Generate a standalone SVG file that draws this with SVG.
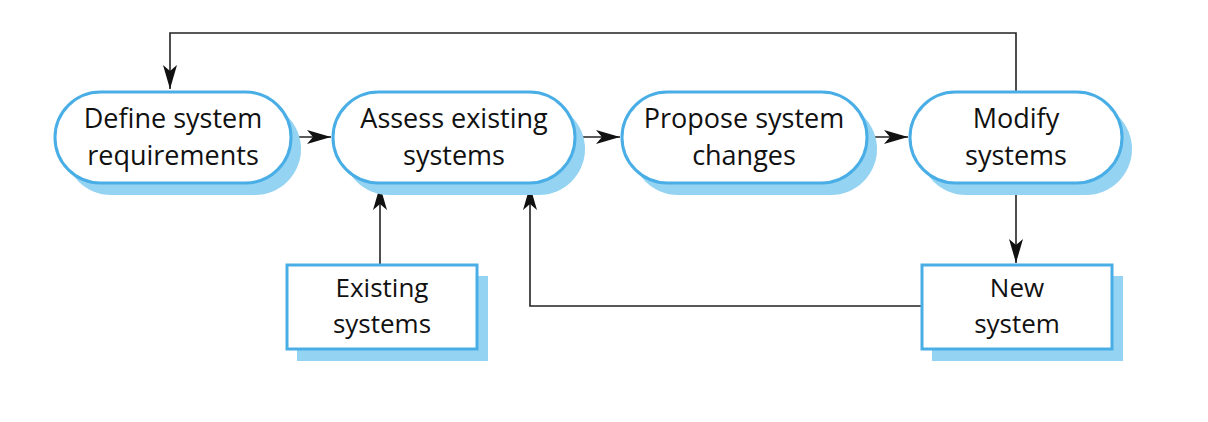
<svg xmlns="http://www.w3.org/2000/svg" width="1208" height="422" viewBox="0 0 1208 422">
<defs>
<style>
.sh{fill:#94d3f2;stroke:none}
.nd{fill:#ffffff;stroke:#4aaee6;stroke-width:3}
.t{font-family:"Open Sans","Noto Sans",sans-serif;font-size:27px;fill:#111;text-anchor:middle}
.s{font-size:26px}
.c{fill:none;stroke:#222;stroke-width:1.6}
</style>
<marker id="ah" viewBox="0 0 24 14" refX="24" refY="7" markerWidth="24" markerHeight="14" markerUnits="userSpaceOnUse" orient="auto">
<path d="M0,0 L24,7 L0,14 L6,7 Z" fill="#111"/>
</marker>
</defs>
<rect width="1208" height="422" fill="#fff"/>
<g id="connectors">
<path class="c" d="M1016,91 V33 H170 V89" marker-end="url(#ah)"/>
<path class="c" d="M291,137 H331" marker-end="url(#ah)"/>
<path class="c" d="M576,137 H620" marker-end="url(#ah)"/>
<path class="c" d="M868,137 H908" marker-end="url(#ah)"/>
<path class="c" d="M1016,184 V263" marker-end="url(#ah)"/>
<path class="c" d="M380,265 V186" marker-end="url(#ah)"/>
<path class="c" d="M922,306 H530 V186" marker-end="url(#ah)"/>
</g>
<g id="define">
<rect class="sh" x="65" y="103" width="236" height="92" rx="46"/>
<rect class="nd" x="55" y="92" width="236" height="91" rx="45.5"/>
<text class="t" x="173" y="128">Define system</text>
<text class="t" x="173" y="165">requirements</text>
</g>
<g id="assess">
<rect class="sh" x="343" y="103" width="242" height="92" rx="46"/>
<rect class="nd" x="333" y="92" width="242" height="91" rx="45.5"/>
<text class="t" x="454" y="128">Assess existing</text>
<text class="t" x="454" y="165">systems</text>
</g>
<g id="propose">
<rect class="sh" x="632" y="103" width="245" height="92" rx="46"/>
<rect class="nd" x="622" y="92" width="245" height="91" rx="45.5"/>
<text class="t" x="744" y="128">Propose system</text>
<text class="t" x="744" y="165">changes</text>
</g>
<g id="modify">
<rect class="sh" x="920" y="103" width="212" height="92" rx="46"/>
<rect class="nd" x="910" y="92" width="212" height="91" rx="45.5"/>
<text class="t" x="1016" y="128">Modify</text>
<text class="t" x="1016" y="165">systems</text>
</g>
<g id="existing">
<rect class="sh" x="297" y="276" width="191" height="85"/>
<rect class="nd" x="287" y="265" width="190" height="84"/>
<text class="t s" x="382" y="297">Existing</text>
<text class="t s" x="382" y="333">systems</text>
</g>
<g id="newsys">
<rect class="sh" x="932" y="276" width="191" height="85"/>
<rect class="nd" x="922" y="265" width="190" height="84"/>
<text class="t s" x="1017" y="297">New</text>
<text class="t s" x="1017" y="333">system</text>
</g>
</svg>
